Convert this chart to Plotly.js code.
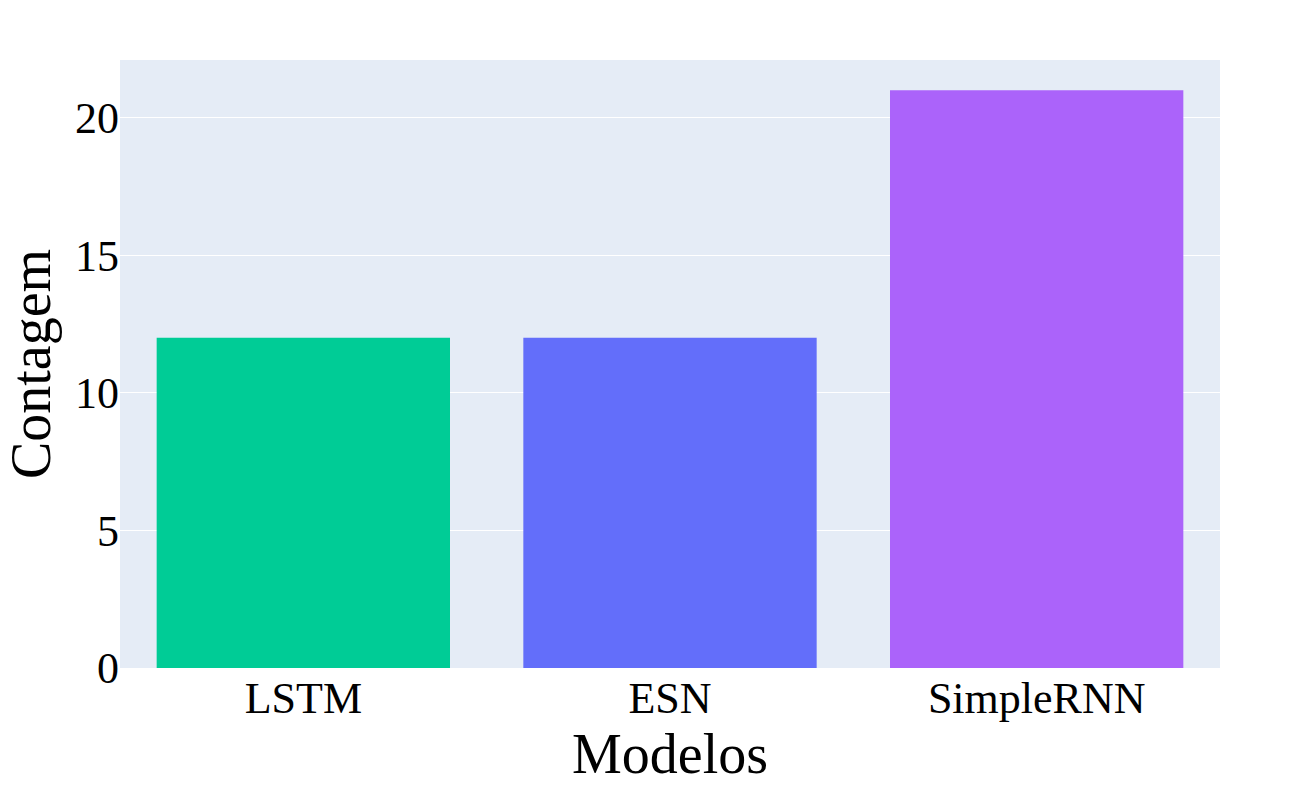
<!DOCTYPE html>
<html>
<head>
<script src="https://cdn.plot.ly/plotly-3.0.1.min.js"></script>
<style>body{margin:0}</style>
</head>
<body>
<div id="graph" style="width:1300px;height:800px"></div>
<script>
const modelos = ["LSTM", "ESN", "SimpleRNN"];
const contagem = [12, 12, 21];
const cores = ["#00CC96", "#636EFA", "#AB63FA"];

Plotly.newPlot("graph", [{
    type: "bar",
    x: modelos,
    y: contagem,
    marker: {color: cores}
}], {
    width: 1300,
    height: 800,
    font: {family: "Liberation Serif, Times New Roman, serif", size: 44, color: "#000"},
    plot_bgcolor: "#E5ECF6",
    paper_bgcolor: "#fff",
    bargap: 0.2,
    margin: {l: 120, r: 80, t: 60, b: 132, pad: 0},
    xaxis: {title: {text: "Modelos", font: {size: 56}, standoff: 10}},
    yaxis: {title: {text: "Contagem", font: {size: 56}, standoff: 10},
            range: [0, 22.1], dtick: 5, gridcolor: "#fff", zeroline: false}
}, {displayModeBar: false});
</script>
</body>
</html>
